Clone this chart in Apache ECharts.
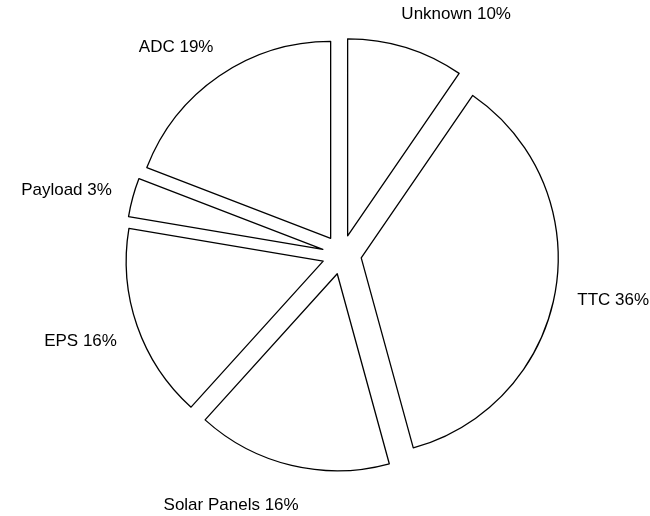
<!DOCTYPE html>
<html>
<head>
<meta charset="utf-8">
<script src="https://cdn.jsdelivr.net/npm/echarts@6/dist/echarts.min.js"></script>
<style>
  html, body { margin: 0; padding: 0; background: #fff; }
  #chart { width: 650px; height: 516px; }
</style>
</head>
<body>
<div id="chart"></div>
<script>
// Failure counts per subsystem, clockwise from 12 o'clock
const categories = ['Unknown', 'TTC', 'Solar Panels', 'EPS', 'Payload', 'ADC'];
const counts = [9, 34, 15, 15, 3, 18];

const CX = 341.8, CY = 254.6, R = 197;
const EXPLODE = 0.1 * R;  // every slice is pulled out by a tenth of the radius
const LABEL_DIST = 255;   // label anchor distance from pie centre
const LABEL_TUCK = 16;    // near edge of the text sits this far inside the anchor
const LABEL_DROP = 3;

const total = counts.reduce((a, b) => a + b, 0);
const midAngles = [];
let acc = 0;
counts.forEach(v => {
  midAngles.push((acc + v / 2) / total * 2 * Math.PI);
  acc += v;
});

const chart = echarts.init(document.getElementById('chart'), null, { renderer: 'canvas' });

const sliceStyle = { color: '#ffffff', borderColor: '#000000', borderWidth: 1.3 };
const common = {
  type: 'pie',
  center: [CX, CY],
  radius: [0, R],
  startAngle: 90,
  clockwise: true,
  percentPrecision: 0,
  avoidLabelOverlap: false,
  emphasis: { disabled: true }
};

chart.setOption({
  animation: false,
  backgroundColor: '#ffffff',
  series: [
    // exploded slices
    Object.assign({}, common, {
      selectedMode: 'multiple',
      selectedOffset: EXPLODE,
      itemStyle: sliceStyle,
      select: { itemStyle: sliceStyle },
      label: { show: false },
      labelLine: { show: false },
      data: categories.map((name, i) => ({ name: name, value: counts[i], selected: true }))
    }),
    // slice labels: name and share of the total
    Object.assign({}, common, {
      silent: true,
      z: 3,
      itemStyle: { color: 'rgba(0,0,0,0)', borderWidth: 0 },
      label: {
        show: true,
        position: 'outside',
        formatter: '{b} {d}%',
        fontFamily: 'Liberation Sans, Arial, sans-serif',
        fontSize: 17,
        color: '#000000'
      },
      labelLine: { show: false },
      labelLayout: function (p) {
        const a = midAngles[p.dataIndex];
        const dx = Math.sin(a), dy = -Math.cos(a);
        const right = dx >= 0;
        return {
          x: CX + LABEL_DIST * dx + (right ? -LABEL_TUCK : LABEL_TUCK),
          y: CY + LABEL_DIST * dy + LABEL_DROP,
          align: right ? 'left' : 'right',
          verticalAlign: 'middle'
        };
      },
      data: categories.map((name, i) => ({ name: name, value: counts[i] }))
    })
  ]
});
</script>
</body>
</html>
